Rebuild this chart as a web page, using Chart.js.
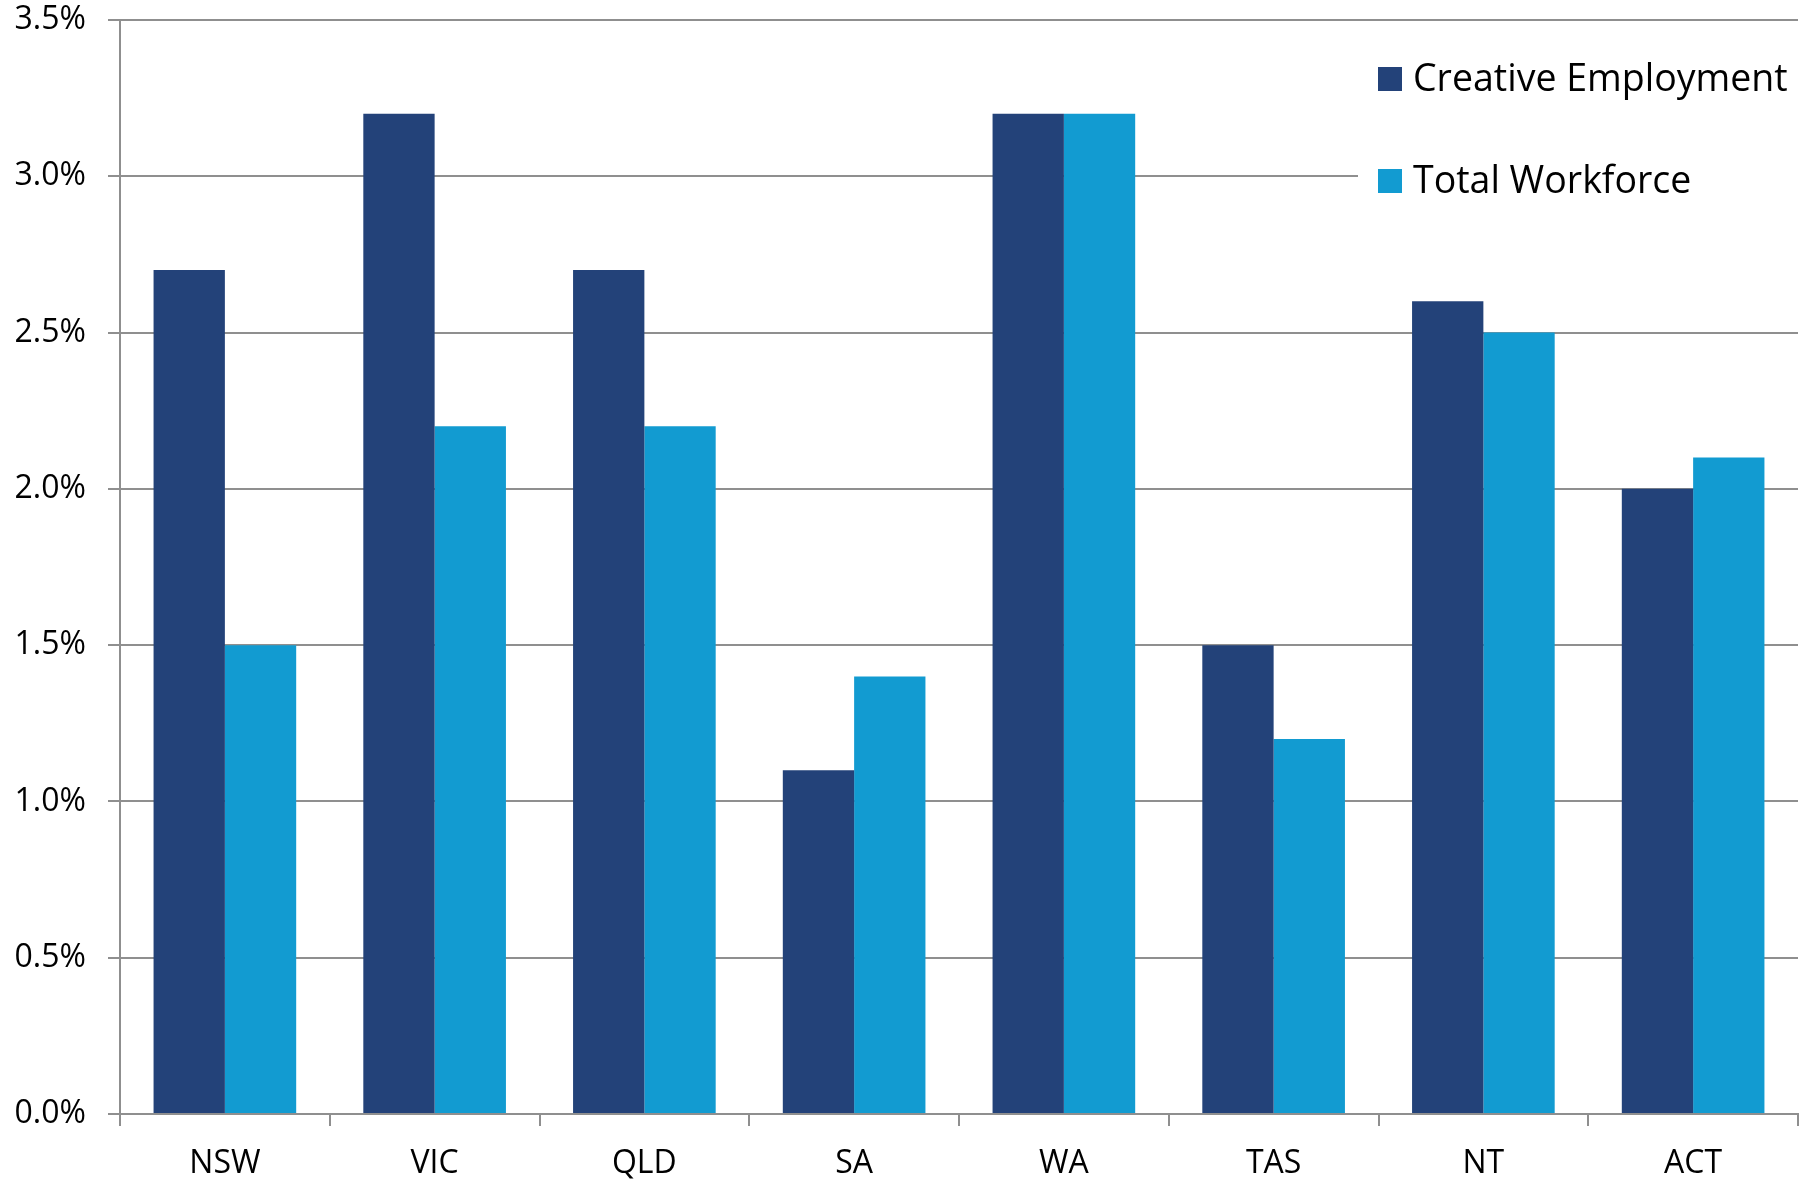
<!DOCTYPE html>
<html>
<head>
<meta charset="utf-8">
<script src="https://cdn.jsdelivr.net/npm/chart.js@4.4.0/dist/chart.umd.min.js"></script>
<style>
  html, body { margin: 0; padding: 0; background: #fff; }
  #wrap { width: 1808px; height: 1180px; }
</style>
</head>
<body>
<div id="wrap"><canvas id="barChart" width="1808" height="1180"></canvas></div>
<script>
const states = ['NSW', 'VIC', 'QLD', 'SA', 'WA', 'TAS', 'NT', 'ACT'];
const creativeEmployment = [2.7, 3.2, 2.7, 1.1, 3.2, 1.5, 2.6, 2.0];
const totalWorkforce = [1.5, 2.2, 2.2, 1.4, 3.2, 1.2, 2.5, 2.1];
const yTicks = [0, 0.5, 1.0, 1.5, 2.0, 2.5, 3.0, 3.5];

Chart.defaults.font.family = 'Open Sans';
Chart.defaults.color = '#000';

const gridGrey = '#8f8f8f';

/*
 * Legend drawn inside the plot, top right, on a white box
 */
const boxLegend = {
    id: 'boxLegend',
    afterDatasetsDraw(chart) {
        const {ctx, chartArea: {right, top}} = chart;
        ctx.save();
        ctx.fillStyle = '#fff';
        ctx.fillRect(1358, top + 3, right - 1358, 200);

        ctx.font = '37.5px Open Sans';
        ctx.textBaseline = 'middle';
        chart.data.datasets.forEach((ds, i) => {
            let y = 79 + i * 102;
            ctx.fillStyle = ds.backgroundColor;
            ctx.fillRect(1378, y - 12, 24, 24);
            ctx.fillStyle = '#000';
            ctx.fillText(ds.label, 1413, y + 1);
        });
        ctx.restore();
    }
};

new Chart(document.getElementById('barChart').getContext('2d'), {
    type: 'bar',
    plugins: [boxLegend],
    data: {
        labels: states,
        datasets: [
            {
                label: 'Creative Employment',
                data: creativeEmployment,
                backgroundColor: '#234279'
            },
            {
                label: 'Total Workforce',
                data: totalWorkforce,
                backgroundColor: '#129bd1'
            }
        ]
    },
    options: {
        responsive: false,
        animation: false,
        categoryPercentage: 0.68,
        barPercentage: 1.0,
        layout: {
            padding: { top: 20, right: 10, left: 0, bottom: 0 }
        },
        plugins: {
            legend: { display: false },
            tooltip: { enabled: false }
        },
        scales: {
            x: {
                grid: {
                    offset: true,
                    drawOnChartArea: false,
                    color: gridGrey,
                    lineWidth: 2,
                    tickLength: 12
                },
                border: { color: gridGrey, width: 2 },
                ticks: {
                    font: { size: 32 },
                    padding: 19
                },
                afterFit(scale) {
                    scale.height = 66;
                    scale.paddingLeft = 0;
                    scale.paddingRight = 0;
                }
            },
            y: {
                min: 0,
                max: 3.5,
                afterBuildTicks(scale) {
                    scale.ticks = yTicks.map(v => ({ value: v }));
                },
                grid: {
                    color: gridGrey,
                    lineWidth: 2,
                    tickLength: 12
                },
                border: { color: gridGrey, width: 2 },
                ticks: {
                    font: { size: 32 },
                    padding: 22,
                    callback: v => v.toFixed(1) + '%'
                },
                afterFit(scale) {
                    scale.width = 120;
                    scale.paddingTop = 0;
                    scale.paddingBottom = 0;
                }
            }
        }
    }
});
</script>
</body>
</html>
